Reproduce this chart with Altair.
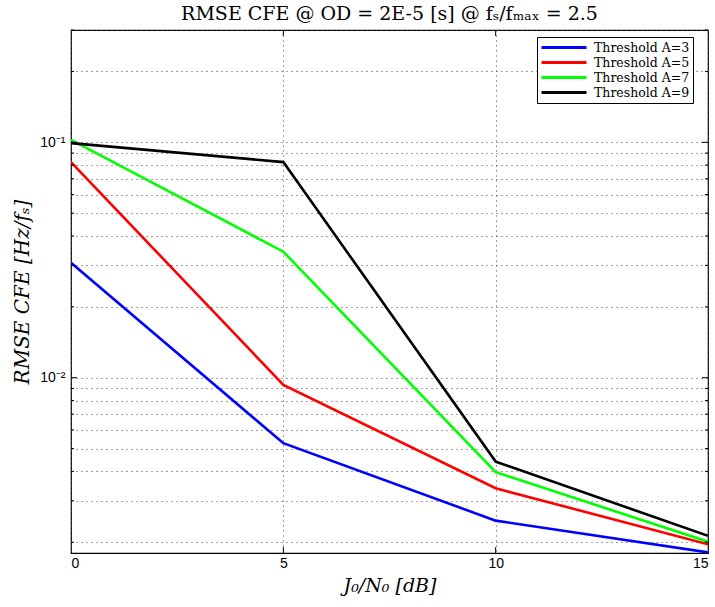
import altair as alt
import pandas as pd

# ---- data ----
x_vals = [0, 5, 10, 15]
series_names = ["Threshold A=3", "Threshold A=5", "Threshold A=7", "Threshold A=9"]
a3 = [0.0308, 0.00527, 0.00247, 0.00181]
a5 = [0.0824, 0.00932, 0.00339, 0.00196]
a7 = [0.1025, 0.0343, 0.00397, 0.00201]
a9 = [0.0992, 0.0824, 0.00440, 0.00213]
colors = ["#0000ff", "#ff0000", "#00ff00", "#000000"]

x_ticks = [0, 5, 10, 15]
x_inner_ticks = [5, 10]
y_major = [0.01, 0.1]
y_minor = [0.002, 0.003, 0.004, 0.005, 0.006, 0.007, 0.008, 0.009,
           0.02, 0.03, 0.04, 0.05, 0.06, 0.07, 0.08, 0.09, 0.2, 0.3]
y_grid = sorted(y_major + y_minor)

W, H = 637, 523
SERIF = "DejaVu Serif"

rows = []
for name, vals in zip(series_names, [a3, a5, a7, a9]):
    for xv, yv in zip(x_vals, vals):
        rows.append({"x": xv, "y": yv, "series": name})
df = pd.DataFrame(rows)

xscale = alt.Scale(domain=[0, 15], nice=False, zero=False)
yscale = alt.Scale(type="log", domain=[0.0018, 0.3], nice=False)

xaxis = alt.Axis(values=x_ticks, title="J₀/N₀ [dB]", grid=True,
                 gridDash=[1, 4], gridColor="#444", gridWidth=1,
                 ticks=False, domain=False, labelPadding=3,
                 labelFont="Liberation Sans", labelFontSize=14, labelColor="black",
                 titleFont=SERIF, titleFontStyle="italic",
                 titleFontSize=19, titleFontWeight="normal", titlePadding=6,
                 titleColor="black")
yaxis = alt.Axis(values=y_grid, title="RMSE CFE [Hz/fₛ]", grid=True,
                 gridDash=[1, 4], gridColor="#444", gridWidth=1,
                 ticks=False, domain=False, labelPadding=6,
                 labelExpr="datum.value == 0.1 ? '10⁻¹' : (datum.value == 0.01 ? '10⁻²' : '')",
                 labelFont="Liberation Sans", labelFontSize=14, labelColor="black",
                 titleFont=SERIF, titleFontStyle="italic",
                 titleFontSize=20, titleFontWeight="normal", titlePadding=7,
                 titleColor="black")

lines = alt.Chart(df).mark_line(strokeWidth=2.6, clip=True).encode(
    x=alt.X("x:Q", scale=xscale, axis=xaxis),
    y=alt.Y("y:Q", scale=yscale, axis=yaxis),
    color=alt.Color("series:N",
                    scale=alt.Scale(domain=series_names, range=colors),
                    legend=alt.Legend(title=None, orient="none", legendX=466, legendY=7,
                                      symbolType="stroke", symbolSize=2025,
                                      symbolStrokeWidth=3, labelFont=SERIF,
                                      labelFontSize=12.5, clipHeight=15, rowPadding=0,
                                      padding=3, strokeColor="black", fillColor="white",
                                      labelLimit=300, labelOffset=6, labelColor="black")),
)

ymaj_df = pd.DataFrame({"y": y_major})
ymin_df = pd.DataFrame({"y": y_minor})
xin_df = pd.DataFrame({"x": x_inner_ticks})

def yticks(data, length):
    left = alt.Chart(data).mark_rule(color="black", strokeWidth=1).encode(
        y=alt.Y("y:Q", scale=yscale, axis=yaxis), x=alt.value(0), x2=alt.value(length))
    right = alt.Chart(data).mark_rule(color="black", strokeWidth=1).encode(
        y=alt.Y("y:Q", scale=yscale, axis=yaxis), x=alt.value(W), x2=alt.value(W - length))
    return [left, right]

bottom = alt.Chart(xin_df).mark_rule(color="black", strokeWidth=1).encode(
    x=alt.X("x:Q", scale=xscale, axis=xaxis), y=alt.value(H), y2=alt.value(H - 6))
top = alt.Chart(xin_df).mark_rule(color="black", strokeWidth=1).encode(
    x=alt.X("x:Q", scale=xscale, axis=xaxis), y=alt.value(0), y2=alt.value(6))

chart = alt.layer(lines, *yticks(ymaj_df, 6), *yticks(ymin_df, 3), bottom, top).properties(
    width=W, height=H,
    background="white",
    title=alt.TitleParams("RMSE CFE @ OD = 2E-5 [s] @ fₛ/fₘₐₓ = 2.5",
                          font=SERIF, fontSize=19, fontWeight="normal",
                          anchor="middle", offset=6, color="black"),
    autosize=alt.AutoSizeParams(type="none"),
    padding={"left": 71, "top": 30, "right": 7, "bottom": 54},
).configure_view(stroke="black", strokeWidth=1.2)

chart.save("out.html", embed_options={"renderer": "svg", "actions": False})
